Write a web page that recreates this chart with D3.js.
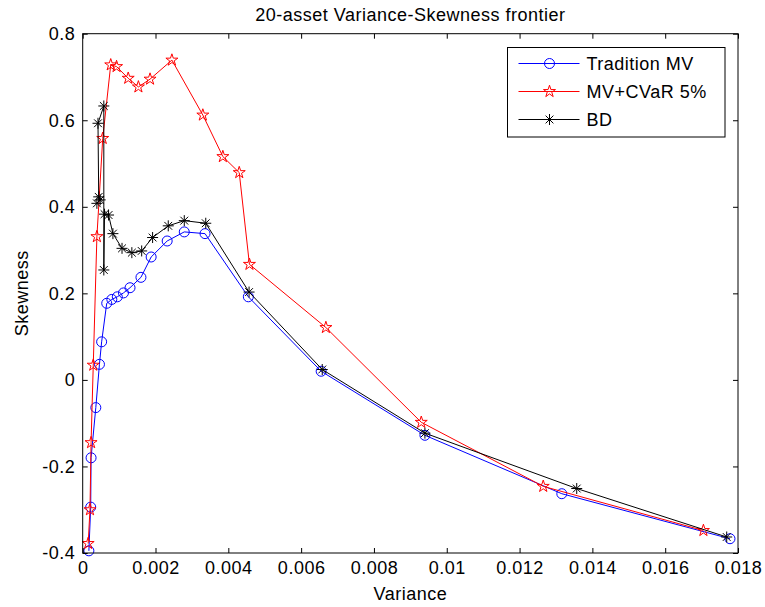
<!DOCTYPE html>
<html>
<head>
<meta charset="utf-8">
<script src="https://cdn.jsdelivr.net/npm/d3@7"></script>
<style>
body { margin: 0; background: #fff; }
text { font-family: "Liberation Sans", Arial, sans-serif; fill: #000; letter-spacing: 0.5px; }
</style>
</head>
<body>
<svg id="chart" width="765" height="607"></svg>
<script>
// tick values and labels
var xTicks = [0, 0.002, 0.004, 0.006, 0.008, 0.01, 0.012, 0.014, 0.016, 0.018];
var xTickLabels = ["0", "0.002", "0.004", "0.006", "0.008", "0.01", "0.012", "0.014", "0.016", "0.018"];
var yTicks = [-0.4, -0.2, 0, 0.2, 0.4, 0.6, 0.8];
var yTickLabels = ["-0.4", "-0.2", "0", "0.2", "0.4", "0.6", "0.8"];

// Tradition MV (blue, circles)
var mvVariance = [0.00017, 0.00022, 0.00023, 0.00036, 0.00046, 0.00052, 0.00066, 0.00080, 0.00095, 0.00112, 0.00130, 0.00160, 0.00188, 0.00232, 0.00279, 0.00336, 0.00455, 0.00655, 0.00940, 0.01316, 0.01778];
var mvSkewness = [-0.395, -0.294, -0.180, -0.064, 0.036, 0.088, 0.177, 0.186, 0.192, 0.201, 0.213, 0.237, 0.284, 0.321, 0.342, 0.338, 0.192, 0.020, -0.128, -0.263, -0.367];

// MV+CVaR 5% (red, pentagrams)
var cvarVariance = [0.00015, 0.00020, 0.00023, 0.00029, 0.00039, 0.00055, 0.00077, 0.00093, 0.00125, 0.00153, 0.00185, 0.00245, 0.00330, 0.00385, 0.00430, 0.00458, 0.00668, 0.00930, 0.01265, 0.01705];
var cvarSkewness = [-0.378, -0.300, -0.145, 0.034, 0.331, 0.558, 0.728, 0.724, 0.697, 0.677, 0.695, 0.739, 0.612, 0.516, 0.479, 0.267, 0.121, -0.098, -0.246, -0.348];

// BD (black, asterisks)
var bdVariance = [0.00039, 0.00048, 0.00044, 0.00042, 0.00058, 0.00058, 0.00060, 0.00071, 0.00083, 0.00108, 0.00135, 0.00162, 0.00192, 0.00235, 0.00279, 0.00338, 0.00457, 0.00658, 0.00940, 0.01357, 0.01769];
var bdSkewness = [0.408, 0.416, 0.423, 0.593, 0.633, 0.254, 0.383, 0.381, 0.338, 0.304, 0.294, 0.298, 0.329, 0.356, 0.368, 0.362, 0.203, 0.024, -0.123, -0.251, -0.363];

var seriesNames = ["Tradition MV", "MV+CVaR 5%", "BD"];
var seriesColors = ["#0000ff", "#ff0000", "#000000"];
var seriesMarkers = ["circle", "star", "asterisk"];

var width = 765, height = 607;
var margin = {top: 33.7, right: 27, bottom: 54, left: 82.7};
var fontSize = 18;

var svg = d3.select("#chart");

var x = d3.scaleLinear().domain([0, 0.018]).range([margin.left, width - margin.right]);
var y = d3.scaleLinear().domain([-0.4, 0.8]).range([height - margin.bottom, margin.top]);

var zipSeries = function() {
	var all = [[mvVariance, mvSkewness], [cvarVariance, cvarSkewness], [bdVariance, bdSkewness]];
	return all.map(function(s, i) {
		return {
			name: seriesNames[i],
			color: seriesColors[i],
			marker: seriesMarkers[i],
			points: s[0].map(function(v, j) { return [v, s[1][j]]; })
		};
	});
};
var series = zipSeries();

var markerPath = function(type) {
	if (type === "circle") {
		return d3.symbol().type(d3.symbolCircle).size(Math.PI * 5 * 5)();
	} else if (type === "star") {
		return d3.symbol().type(d3.symbolStar).size(6.3 * 6.3 / 0.8908130915292852)();
	}
	// asterisk: plus and cross together
	var r = 5.5, d = r * Math.SQRT1_2;
	return "M" + (-r) + ",0L" + r + ",0M0," + (-r) + "L0," + r +
		"M" + (-d) + "," + (-d) + "L" + d + "," + d +
		"M" + (-d) + "," + d + "L" + d + "," + (-d);
};

// axes box with inward ticks on all sides
var tickLen = 5;
var xAxisBottom = d3.axisBottom(x).tickValues(xTicks).tickSizeInner(-tickLen).tickSizeOuter(0)
	.tickFormat(function(d, i) { return xTickLabels[i]; }).tickPadding(8.5);
var xAxisTop = d3.axisTop(x).tickValues(xTicks).tickSizeInner(-tickLen).tickSizeOuter(0).tickFormat("");
var yAxisLeft = d3.axisLeft(y).tickValues(yTicks).tickSizeInner(-tickLen).tickSizeOuter(0)
	.tickFormat(function(d, i) { return yTickLabels[i]; }).tickPadding(7.5);
var yAxisRight = d3.axisRight(y).tickValues(yTicks).tickSizeInner(-tickLen).tickSizeOuter(0).tickFormat("");

svg.append("rect")
	.attr("width", width).attr("height", height).attr("fill", "#fff");

var plot = svg.append("g").attr("class", "plot");

var line = d3.line()
	.x(function(d) { return x(d[0]); })
	.y(function(d) { return y(d[1]); });

var groups = plot.selectAll("g.series")
	.data(series)
	.enter()
	.append("g")
	.classed("series", true);

groups.append("path")
	.attr("d", function(d) { return line(d.points); })
	.attr("fill", "none")
	.attr("stroke", function(d) { return d.color; })
	.attr("stroke-width", 1);

groups.each(function(s) {
	d3.select(this).selectAll("path.marker")
	.data(s.points)
	.enter()
	.append("path")
	.classed("marker", true)
	.attr("d", markerPath(s.marker))
	.attr("transform", function(d) { return "translate(" + x(d[0]) + "," + y(d[1]) + ")"; })
	.attr("fill", "none")
	.attr("stroke", s.color)
	.attr("stroke-width", 1);
});

var axisStyle = function(g) {
	g.select(".domain").remove();
	g.selectAll(".tick line").attr("stroke", "#000");
	g.selectAll(".tick text").attr("font-size", fontSize).attr("fill", "#000")
		.attr("font-family", "'Liberation Sans', Arial, sans-serif");
};

svg.append("g").attr("transform", "translate(0," + y(-0.4) + ")").call(xAxisBottom).call(axisStyle);
svg.append("g").attr("transform", "translate(0," + y(0.8) + ")").call(xAxisTop).call(axisStyle);
svg.append("g").attr("transform", "translate(" + x(0) + ",0)").call(yAxisLeft).call(axisStyle);
svg.append("g").attr("transform", "translate(" + x(0.018) + ",0)").call(yAxisRight).call(axisStyle);

svg.append("rect")
	.attr("x", x(0)).attr("y", y(0.8))
	.attr("width", x(0.018) - x(0)).attr("height", y(-0.4) - y(0.8))
	.attr("fill", "none").attr("stroke", "#000").attr("stroke-width", 1);

// titles
svg.append("text")
	.attr("x", (x(0) + x(0.018)) / 2).attr("y", 21)
	.attr("text-anchor", "middle").attr("font-size", fontSize)
	.text("20-asset Variance-Skewness frontier");

svg.append("text")
	.attr("x", (x(0) + x(0.018)) / 2).attr("y", 600)
	.attr("text-anchor", "middle").attr("font-size", fontSize)
	.text("Variance");

svg.append("text")
	.attr("transform", "translate(28," + ((y(0.8) + y(-0.4)) / 2) + ") rotate(-90)")
	.attr("text-anchor", "middle").attr("font-size", fontSize)
	.text("Skewness");

// legend
var legend = svg.append("g").attr("transform", "translate(507.5,47.5)");
legend.append("rect")
	.attr("width", 217.5).attr("height", 89.5)
	.attr("fill", "#fff").attr("stroke", "#000").attr("stroke-width", 1);

var entries = legend.selectAll("g.entry")
	.data(series)
	.enter()
	.append("g")
	.classed("entry", true)
	.attr("transform", function(d, i) { return "translate(0," + (16 + i * 28) + ")"; });

entries.append("line")
	.attr("x1", 11).attr("x2", 72).attr("y1", 0).attr("y2", 0)
	.attr("stroke", function(d) { return d.color; });

entries.append("path")
	.attr("d", function(d) { return markerPath(d.marker); })
	.attr("transform", "translate(42,0)")
	.attr("fill", "none")
	.attr("stroke", function(d) { return d.color; });

entries.append("text")
	.attr("x", 79).attr("y", 6.5)
	.attr("font-size", fontSize)
	.text(function(d) { return d.name; });
</script>
</body>
</html>
